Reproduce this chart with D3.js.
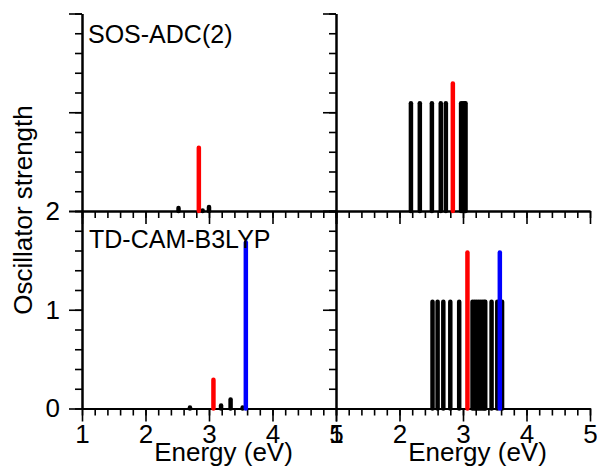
<!DOCTYPE html>
<html>
<head>
<meta charset="utf-8">
<script src="https://cdn.jsdelivr.net/npm/d3@7"></script>
<style>
  body { margin: 0; background: #fff; }
  text { font-family: "Liberation Sans", Arial, sans-serif; fill: #000; }
</style>
</head>
<body>
<div id="chart"></div>
<script>
// energies (eV) and oscillator strengths
const sosBlackE = [2.52, 2.90, 3.00];
const sosBlackF = [0.03, 0.005, 0.04];
const sosRedE = [2.84];
const sosRedF = [0.64];

const sosRightBlackE = [2.18, 2.32, 2.51, 2.65, 2.73, 2.97, 3.00, 3.02, 3.04];
const sosRightBlackF = [1.09, 1.09, 1.09, 1.09, 1.09, 1.09, 1.09, 1.09, 1.09];
const sosRightRedE = [2.84];
const sosRightRedF = [1.29];

const camBlackE = [2.70, 3.19, 3.34, 3.53];
const camBlackF = [0.01, 0.03, 0.09, 0.01];
const camRedE = [3.07];
const camRedF = [0.29];
const camBlueE = [3.58];
const camBlueF = [1.68];

const camRightBlackE = [2.52, 2.60, 2.69, 2.80, 2.94, 3.15, 3.18, 3.21, 3.24, 3.27, 3.30, 3.33, 3.35, 3.45, 3.54, 3.615];
const camRightBlackF = camRightBlackE.map(() => 1.08);
const camRightRedE = [3.07];
const camRightRedF = [1.58];
const camRightBlueE = [3.58];
const camRightBlueF = [1.58];

const xMajor = [1, 2, 3, 4, 5];
const xMinor = d3.range(0, 21).map(i => 1 + i * 0.2);
const yMajor = [0, 1, 2];
const yMinor = d3.range(0, 11).map(i => i * 0.2);

const W = 597, H = 466;

const svg = d3.select('#chart')
    .append('svg')
    .attr('width', W)
    .attr('height', H);

const xL = d3.scaleLinear().domain([1, 5]).range([82, 336]);
const xR = d3.scaleLinear().domain([1, 5]).range([336, 590]);
const yTop = d3.scaleLinear().domain([0, 2]).range([211, 13.5]);
const yBot = d3.scaleLinear().domain([0, 2]).range([408.5, 211]);

function styleAxis(g, labels) {
    g.select('.domain').attr('stroke-width', 2);
    g.selectAll('.tick line').attr('stroke-width', 1.6);
    g.selectAll('.tick text')
        .style('font-size', '26px')
        .style('font-family', '"Liberation Sans", Arial, sans-serif');
    if (!labels) g.selectAll('.tick text').remove();
}

// x axes (ticks pointing down)
function xAxis(x, yPos, labels) {
    svg.append('g')
        .attr('transform', `translate(0,${yPos})`)
        .call(d3.axisBottom(x).tickValues(xMinor).tickSize(7).tickSizeOuter(0).tickFormat(''))
        .call(g => styleAxis(g, false));
    svg.append('g')
        .attr('transform', `translate(0,${yPos})`)
        .call(d3.axisBottom(x).tickValues(xMajor).tickSize(13).tickSizeOuter(0).tickPadding(3).tickFormat(d3.format('d')))
        .call(g => styleAxis(g, labels));
}

xAxis(xL, 211, false);
xAxis(xR, 211, false);
xAxis(xL, 408.5, true);
xAxis(xR, 408.5, true);

// y axes (ticks pointing left)
function yAxis(y, xPos, labels) {
    svg.append('g')
        .attr('transform', `translate(${xPos},0)`)
        .call(d3.axisLeft(y).tickValues(yMinor).tickSize(7).tickSizeOuter(0).tickFormat(''))
        .call(g => styleAxis(g, false));
    svg.append('g')
        .attr('transform', `translate(${xPos},0)`)
        .call(d3.axisLeft(y).tickValues(yMajor).tickSize(13).tickSizeOuter(0).tickPadding(9).tickFormat(d3.format('d')))
        .call(g => styleAxis(g, labels));
}

yAxis(yTop, 82, false);
yAxis(yBot, 82, true);
yAxis(yTop, 336, false);
yAxis(yBot, 336, false);

// sticks
function sticks(x, y, es, fs, color) {
    svg.append('g')
        .selectAll('line')
        .data(es.map((e, i) => ({e: e, f: fs[i]})))
        .enter()
        .append('line')
        .attr('x1', d => x(d.e))
        .attr('x2', d => x(d.e))
        .attr('y1', y(0))
        .attr('y2', d => y(d.f))
        .attr('stroke', color)
        .attr('stroke-width', 4.5)
        .attr('stroke-linecap', 'round');
}

sticks(xL, yTop, sosBlackE, sosBlackF, '#000');
sticks(xL, yTop, sosRedE, sosRedF, '#ff0000');

sticks(xR, yTop, sosRightBlackE, sosRightBlackF, '#000');
sticks(xR, yTop, sosRightRedE, sosRightRedF, '#ff0000');

sticks(xL, yBot, camBlackE, camBlackF, '#000');
sticks(xL, yBot, camRedE, camRedF, '#ff0000');
sticks(xL, yBot, camBlueE, camBlueF, '#0000ff');

sticks(xR, yBot, camRightBlackE, camRightBlackF, '#000');
sticks(xR, yBot, camRightRedE, camRightRedF, '#ff0000');
sticks(xR, yBot, camRightBlueE, camRightBlueF, '#0000ff');

// panel labels
svg.append('text')
    .attr('x', 88)
    .attr('y', 42.5)
    .style('font-size', '25px')
    .text('SOS-ADC(2)');

svg.append('text')
    .attr('x', 89)
    .attr('y', 248)
    .style('font-size', '25px')
    .text('TD-CAM-B3LYP');

// axis titles
[xL, xR].forEach(x => {
    svg.append('text')
        .attr('x', (x.range()[0] + x.range()[1]) / 2 + 14.5)
        .attr('y', 461)
        .attr('text-anchor', 'middle')
        .style('font-size', '26px')
        .text('Energy (eV)');
});

svg.append('text')
    .attr('transform', 'translate(31.5,210) rotate(-90)')
    .attr('text-anchor', 'middle')
    .style('font-size', '26px')
    .text('Oscillator strength');
</script>
</body>
</html>
